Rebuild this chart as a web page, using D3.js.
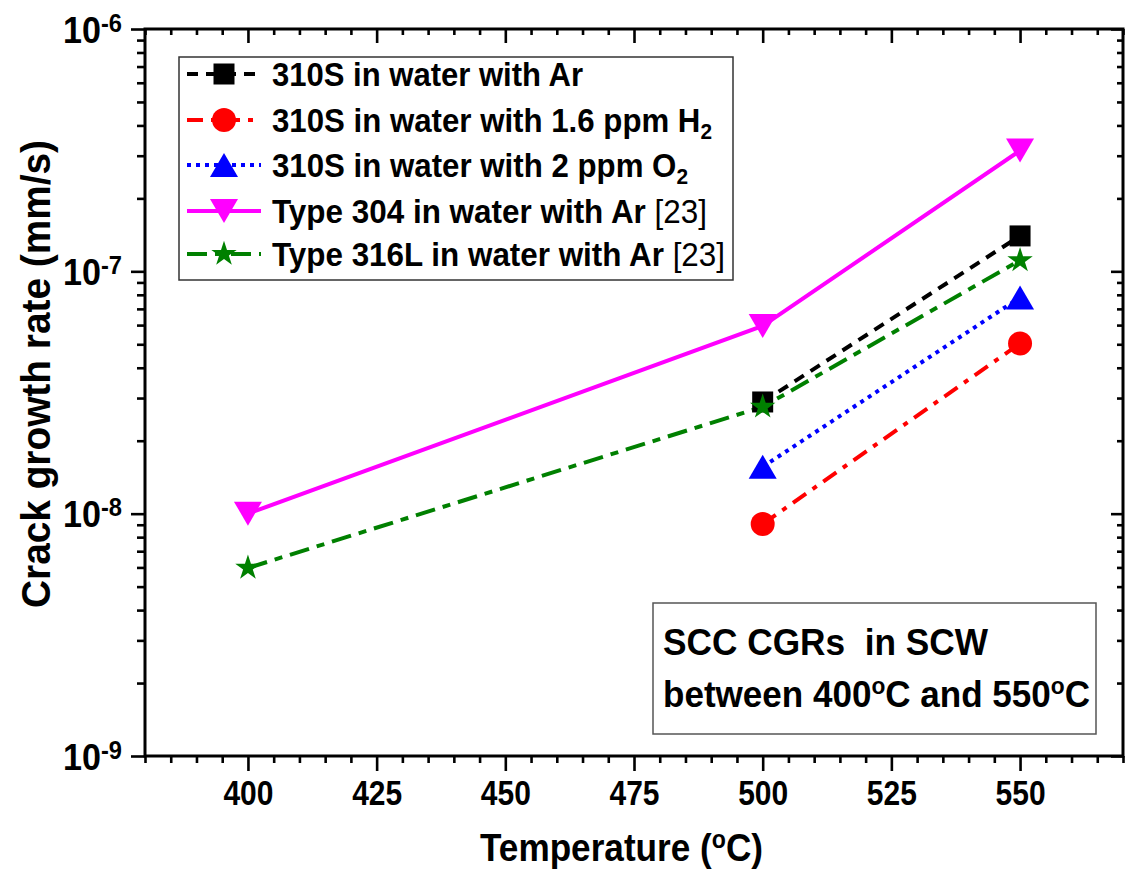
<!DOCTYPE html>
<html><head><meta charset="utf-8">
<script src="https://cdn.jsdelivr.net/npm/d3@7/dist/d3.min.js"></script>
<style>body{margin:0;background:#fff}svg{display:block}text{font-family:"Liberation Sans",Arial,sans-serif}</style>
</head><body><svg id="c" width="1125" height="872"></svg>
<script>
// ---- data ----
const temps = [400, 500, 550];
const ar310  = [null, 2.89e-8, 1.40e-7];
const h2310  = [null, 9.06e-9, 5.04e-8];
const o2310  = [null, 1.56e-8, 7.8e-8];
const t304   = [1.0e-8, 5.95e-8, 3.15e-7];
const t316L  = [5.97e-9, 2.76e-8, 1.11e-7];
const legendMain = ["310S in water with Ar", "310S in water with 1.6 ppm H", "310S in water with 2 ppm O", "Type 304 in water with Ar", "Type 316L in water with Ar"];
const legendSub  = ["", "2", "2", "", ""];
const legendRef  = ["", "", "", " [23]", " [23]"];
const xTicks = [400, 425, 450, 475, 500, 525, 550];
const yTickExps = [-9, -8, -7, -6];

// ---- layout ----
const svg = d3.select("#c");
const L = 145, R = 1123, T = 29, B = 756;
const x = d3.scaleLinear().domain([380, 570]).range([L, R]);
const y = d3.scaleLog().domain([1e-9, 1e-6]).range([B, T]);

const series = [
  {vals: ar310, color: "#000000", dash: "11,8", sym: "square"},
  {vals: h2310, color: "#ff0000", dash: "16,8,5,8", sym: "circle"},
  {vals: o2310, color: "#0000ff", dash: "4,5", sym: "up"},
  {vals: t304,  color: "#ff00ff", dash: null, sym: "down"},
  {vals: t316L, color: "#008000", dash: "20,8,8,8", sym: "star"}
];

function symPath(sym) {
  if (sym === "square") return "M-10.5,-10.5H10.5V10.5H-10.5Z";
  if (sym === "circle") return d3.symbol(d3.symbolCircle, Math.PI * 12 * 12)();
  if (sym === "up") return "M0,-12L14,12L-14,12Z";
  if (sym === "down") return "M0,12L14,-12L-14,-12Z";
  if (sym === "star") return d3.symbol(d3.symbolStar, 200)();
}

// ---- axes ----
const minorX = d3.range(380, 571, 5).filter(v => !xTicks.includes(v));
const majorY = yTickExps.map(e => Math.pow(10, e));
const minorY = [];
yTickExps.slice(0, -1).forEach(e => { for (let m = 2; m <= 9; m++) minorY.push(m * Math.pow(10, e)); });

function styleAxis(g) {
  g.select(".domain").remove();
  g.selectAll(".tick line").attr("stroke", "#000").attr("stroke-width", 2.6);
}
svg.append("g").attr("transform", `translate(0,${B})`).call(d3.axisBottom(x).tickValues(minorX).tickSize(7).tickFormat("")).call(styleAxis);
const xb = svg.append("g").attr("transform", `translate(0,${B})`).call(d3.axisBottom(x).tickValues(xTicks).tickSize(15).tickPadding(0).tickFormat(d3.format("d"))).call(styleAxis);
xb.selectAll(".tick text").attr("y", 49).attr("dy", 0).attr("font-size", 35).attr("font-weight", "bold")
  .attr("fill", "#000").attr("textLength", 50).attr("lengthAdjust", "spacingAndGlyphs");

svg.append("g").attr("transform", `translate(0,${T})`).call(d3.axisTop(x).tickValues(minorX).tickSize(-6).tickFormat("")).call(styleAxis);
svg.append("g").attr("transform", `translate(0,${T})`).call(d3.axisTop(x).tickValues(xTicks).tickSize(-14).tickFormat("")).call(styleAxis);

svg.append("g").attr("transform", `translate(${L},0)`).call(d3.axisLeft(y).tickValues(minorY).tickSize(8).tickFormat("")).call(styleAxis);
const yl = svg.append("g").attr("transform", `translate(${L},0)`).call(d3.axisLeft(y).tickValues(majorY).tickSize(14).tickFormat("")).call(styleAxis);
yl.selectAll(".tick").each(function(d) {
  const t = d3.select(this).select("text");
  t.attr("x", -23).attr("y", 13).attr("dy", 0).attr("text-anchor", "end").attr("fill", "#000")
   .attr("font-weight", "bold").attr("font-size", 36).attr("textLength", 59).attr("lengthAdjust", "spacingAndGlyphs");
  t.text(null);
  t.append("tspan").text("10");
  t.append("tspan").attr("font-size", 25).attr("dy", -11).text(String(Math.round(Math.log10(d))));
});

svg.append("g").attr("transform", `translate(${R},0)`).call(d3.axisRight(y).tickValues(minorY).tickSize(-6).tickFormat("")).call(styleAxis);
svg.append("g").attr("transform", `translate(${R},0)`).call(d3.axisRight(y).tickValues(majorY).tickSize(-12).tickFormat("")).call(styleAxis);

svg.append("rect").attr("x", L).attr("y", T).attr("width", R - L).attr("height", B - T)
  .attr("fill", "none").attr("stroke", "#000").attr("stroke-width", 3);

// ---- series ----
const line = d3.line().defined(d => d.v != null).x(d => x(d.t)).y(d => y(d.v));
series.forEach(s => {
  const pts = temps.map((t, i) => ({t, v: s.vals[i]}));
  svg.append("path").datum(pts).attr("d", line).attr("fill", "none").attr("stroke", s.color)
    .attr("stroke-width", 4).attr("stroke-dasharray", s.dash);
});
series.forEach(s => {
  const pts = temps.map((t, i) => ({t, v: s.vals[i]})).filter(d => d.v != null);
  svg.selectAll(null).data(pts).enter().append("path")
    .attr("transform", d => `translate(${x(d.t)},${y(d.v)})`)
    .attr("d", symPath(s.sym)).attr("fill", s.color);
});

// ---- legend ----
const leg = svg.append("g");
leg.append("rect").attr("x", 179).attr("y", 57).attr("width", 554).attr("height", 223)
  .attr("fill", "#fff").attr("stroke", "#333").attr("stroke-width", 1.5);
const rowBase = [86, 132, 177, 223, 266];
const rowW = [311, 440, 416, 435, 453];
series.forEach((s, i) => {
  const cy = rowBase[i] - 12;
  leg.append("line").attr("x1", 187).attr("x2", 261).attr("y1", cy).attr("y2", cy)
    .attr("stroke", s.color).attr("stroke-width", 4).attr("stroke-dasharray", s.dash);
  leg.append("path").attr("transform", `translate(224,${cy})`).attr("d", symPath(s.sym)).attr("fill", s.color);
  const t = leg.append("text").attr("x", 272).attr("y", rowBase[i]).attr("font-size", 33).attr("font-weight", "bold")
    .attr("fill", "#000").attr("textLength", rowW[i]).attr("lengthAdjust", "spacingAndGlyphs");
  t.append("tspan").text(legendMain[i]);
  if (legendSub[i]) t.append("tspan").attr("font-size", 22).attr("dy", 7).text(legendSub[i]);
  if (legendRef[i]) t.append("tspan").attr("font-weight", "normal").text(legendRef[i]);
});

// ---- annotation ----
svg.append("rect").attr("x", 653).attr("y", 603).attr("width", 443).attr("height", 131)
  .attr("fill", "#fff").attr("stroke", "#555").attr("stroke-width", 1.5);
svg.append("text").attr("x", 663).attr("y", 655).attr("font-size", 37).attr("font-weight", "bold")
  .attr("xml:space", "preserve").style("white-space", "pre")
  .attr("textLength", 325).attr("lengthAdjust", "spacingAndGlyphs").text("SCC CGRs  in SCW");
const a2 = svg.append("text").attr("x", 663).attr("y", 707).attr("font-size", 37).attr("font-weight", "bold")
  .attr("textLength", 427).attr("lengthAdjust", "spacingAndGlyphs");
a2.append("tspan").text("between 400");
a2.append("tspan").attr("font-size", 24).attr("dy", -13).text("o");
a2.append("tspan").attr("dy", 13).text("C and 550");
a2.append("tspan").attr("font-size", 24).attr("dy", -13).text("o");
a2.append("tspan").attr("dy", 13).text("C");

// ---- axis titles ----
const xt = svg.append("text").attr("x", 480).attr("y", 861).attr("font-size", 38).attr("font-weight", "bold")
  .attr("textLength", 283).attr("lengthAdjust", "spacingAndGlyphs");
xt.append("tspan").text("Temperature (");
xt.append("tspan").attr("font-size", 25).attr("dy", -13).text("o");
xt.append("tspan").attr("dy", 13).text("C)");

svg.append("text").attr("transform", "translate(50,374) rotate(-90)").attr("text-anchor", "middle")
  .attr("font-size", 40).attr("font-weight", "bold")
  .attr("textLength", 468).attr("lengthAdjust", "spacingAndGlyphs").text("Crack growth rate (mm/s)");
</script></body></html>
